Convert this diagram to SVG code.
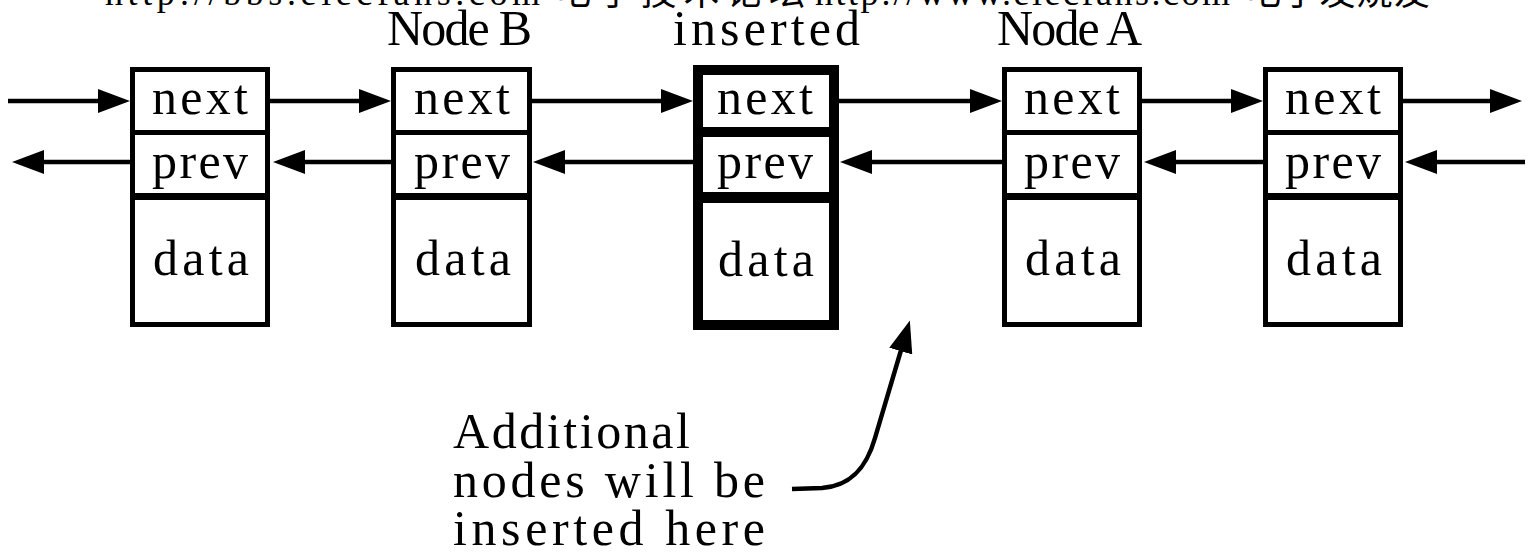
<svg xmlns="http://www.w3.org/2000/svg" width="1533" height="554" viewBox="0 0 1533 554">
  <style>
    .box { fill: #fff; stroke: #000; stroke-width: 5; }
    .box-thick { fill: #fff; stroke: #000; stroke-width: 10; }
    .div1 { stroke: #000; stroke-width: 5; }
    .div2 { stroke: #000; stroke-width: 7; }
    .div1t { stroke: #000; stroke-width: 10; }
    .div2t { stroke: #000; stroke-width: 11; }
    .t { font-family: "Liberation Serif", "DejaVu Serif", serif; font-size: 50px; fill: #000; }
    .wm { font-family: "Liberation Serif", "Noto Sans CJK SC", serif; font-size: 36px; fill: #000; }
    .conn { fill: none; stroke: #000; stroke-width: 4.5; }
  </style>
  <defs>
    <marker id="arrow" viewBox="0 0 32 24" refX="22" refY="12" markerWidth="32" markerHeight="24" markerUnits="userSpaceOnUse" orient="auto">
      <path d="M0,0 L32,12 L0,24 Z" fill="#000"/>
    </marker>
  </defs>

  <g id="watermark">
    <text class="wm" x="105" y="5" textLength="435">http://bbs.elecfans.com</text>
    <text class="wm" x="555" y="5" textLength="250">电子技术论坛</text>
    <text class="wm" x="815" y="5" textLength="415">http://www.elecfans.com</text>
    <text class="wm" x="1245" y="5" textLength="185">电子发烧友</text>
  </g>

  <g id="connectors">
    <!-- next pointers -->
    <line class="conn" x1="8" y1="101" x2="120" y2="101" marker-end="url(#arrow)"/>
    <line class="conn" x1="270" y1="101" x2="381" y2="101" marker-end="url(#arrow)"/>
    <line class="conn" x1="532" y1="101" x2="683" y2="101" marker-end="url(#arrow)"/>
    <line class="conn" x1="839" y1="101" x2="992" y2="101" marker-end="url(#arrow)"/>
    <line class="conn" x1="1142" y1="101" x2="1253" y2="101" marker-end="url(#arrow)"/>
    <line class="conn" x1="1403" y1="101" x2="1512" y2="101" marker-end="url(#arrow)"/>
    <!-- prev pointers -->
    <line class="conn" x1="130" y1="162" x2="22" y2="162" marker-end="url(#arrow)"/>
    <line class="conn" x1="391" y1="162" x2="283" y2="162" marker-end="url(#arrow)"/>
    <line class="conn" x1="693" y1="162" x2="543" y2="162" marker-end="url(#arrow)"/>
    <line class="conn" x1="1002" y1="162" x2="850" y2="162" marker-end="url(#arrow)"/>
    <line class="conn" x1="1263" y1="162" x2="1154" y2="162" marker-end="url(#arrow)"/>
    <line class="conn" x1="1525" y1="162" x2="1415" y2="162" marker-end="url(#arrow)"/>
    <!-- annotation pointer -->
    <path class="conn" d="M792,489 L822,488 C852,486 867,466 875,438 L907,330" stroke-width="4" marker-end="url(#arrow)"/>
  </g>

  <g id="node-1">
    <rect class="box" x="132.5" y="69.5" width="135" height="255"/>
    <line class="div1" x1="132" y1="132.5" x2="268" y2="132.5"/>
    <line class="div2" x1="132" y1="196.5" x2="268" y2="196.5"/>
    <text class="t" x="152" y="114" textLength="96">next</text>
    <text class="t" x="152" y="178" textLength="96">prev</text>
    <text class="t" x="153" y="275" textLength="96">data</text>
  </g>

  <g id="node-b">
    <text class="t" x="387" y="45" textLength="145">Node B</text>
    <rect class="box" x="393.5" y="69.5" width="136" height="255"/>
    <line class="div1" x1="393" y1="132.5" x2="530" y2="132.5"/>
    <line class="div2" x1="393" y1="196.5" x2="530" y2="196.5"/>
    <text class="t" x="414" y="114" textLength="96">next</text>
    <text class="t" x="414" y="178" textLength="96">prev</text>
    <text class="t" x="415" y="275" textLength="96">data</text>
  </g>

  <g id="node-inserted">
    <text class="t" x="673" y="45" textLength="187">inserted</text>
    <rect class="box-thick" x="698" y="70" width="136" height="255"/>
    <line class="div1t" x1="698" y1="132" x2="834" y2="132"/>
    <line class="div2t" x1="698" y1="197.5" x2="834" y2="197.5"/>
    <text class="t" x="717" y="114" textLength="96">next</text>
    <text class="t" x="717" y="178" textLength="96">prev</text>
    <text class="t" x="718" y="276" textLength="96">data</text>
  </g>

  <g id="node-a">
    <text class="t" x="997" y="45" textLength="145">Node A</text>
    <rect class="box" x="1004.5" y="69.5" width="135" height="255"/>
    <line class="div1" x1="1004" y1="132.5" x2="1140" y2="132.5"/>
    <line class="div2" x1="1004" y1="196.5" x2="1140" y2="196.5"/>
    <text class="t" x="1024" y="114" textLength="96">next</text>
    <text class="t" x="1024" y="178" textLength="96">prev</text>
    <text class="t" x="1025" y="275" textLength="96">data</text>
  </g>

  <g id="node-5">
    <rect class="box" x="1265.5" y="69.5" width="135" height="255"/>
    <line class="div1" x1="1265" y1="132.5" x2="1401" y2="132.5"/>
    <line class="div2" x1="1265" y1="196.5" x2="1401" y2="196.5"/>
    <text class="t" x="1285" y="114" textLength="96">next</text>
    <text class="t" x="1285" y="178" textLength="96">prev</text>
    <text class="t" x="1286" y="275" textLength="96">data</text>
  </g>

  <g id="annotation">
    <text class="t" x="453" y="448" textLength="237">Additional</text>
    <text class="t" x="453" y="497" textLength="312">nodes will be</text>
    <text class="t" x="453" y="545" textLength="312">inserted here</text>
  </g>
</svg>
